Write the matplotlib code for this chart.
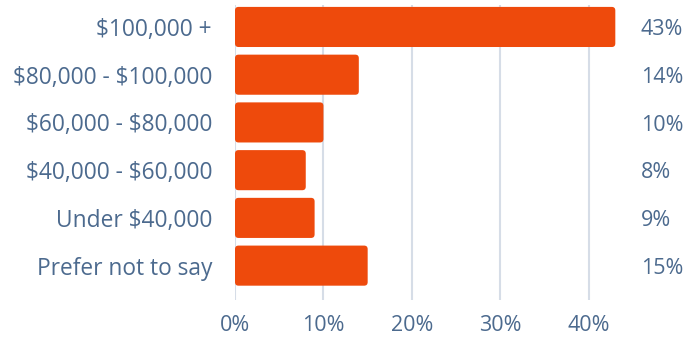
import matplotlib.pyplot as plt
from matplotlib.patches import FancyBboxPatch
from matplotlib.ticker import FuncFormatter

# household income survey
categories = ["$100,000 +", "$80,000 - $100,000", "$60,000 - $80,000",
              "$40,000 - $60,000", "Under $40,000", "Prefer not to say"]
shares = [43, 14, 10, 8, 9, 15]
xticks = [0, 10, 20, 30, 40]

bar_color = "#EE4A0C"
text_color = "#4C6A8E"
grid_color = "#D6DDE7"

plt.rcParams['font.family'] = ['Open Sans', 'DejaVu Sans']
plt.rcParams['text.parse_math'] = False

fig = plt.figure(figsize=(6.86, 3.37), dpi=100)
W, H = 686, 337
left, right, top, bottom = 235, 633, 5, 300
ax = fig.add_axes([left / W, 1 - bottom / H, (right - left) / W, (bottom - top) / H])

ax.set_xlim(0, 45)
ax.set_ylim(5.72, -0.46)

ys = list(range(len(categories)))
bars = ax.barh(ys, shares, height=0.84)

# swap the plain rectangles for slightly rounded ones
# (x and y scales differ, so squash the rounding vertically)
px_x = (right - left) / 45
px_y = (bottom - top) / 6.18
for rect in bars.patches:
    x0, y0 = rect.get_x(), rect.get_y()
    w, h = rect.get_width(), rect.get_height()
    rect.set_visible(False)
    ax.add_patch(FancyBboxPatch((x0, y0), w, h,
                                boxstyle="round,pad=0,rounding_size=0.4",
                                mutation_aspect=px_x / px_y,
                                facecolor=bar_color, edgecolor="none", zorder=3))

ax.set_xticks(xticks)
ax.xaxis.set_major_formatter(FuncFormatter(lambda v, p: f"{v:.0f}%"))
ax.set_yticks(ys)
ax.set_yticklabels(categories)
ax.tick_params(axis="both", length=0, labelcolor=text_color)
ax.tick_params(axis="y", pad=16.5, labelsize=16.4)
ax.tick_params(axis="x", pad=11, labelsize=15.5)
ax.grid(axis="x", color=grid_color, linewidth=1.5, zorder=0)
for s in ax.spines.values():
    s.set_visible(False)

# value labels to the right of the plot
for y, v in zip(ys, shares):
    ax.annotate(f"{v}%", xy=(45.9, y), xytext=(0, -2), textcoords="offset points",
                ha="left", va="center", fontsize=15.5, color=text_color,
                annotation_clip=False)

fig.savefig("out.png", dpi=100)
